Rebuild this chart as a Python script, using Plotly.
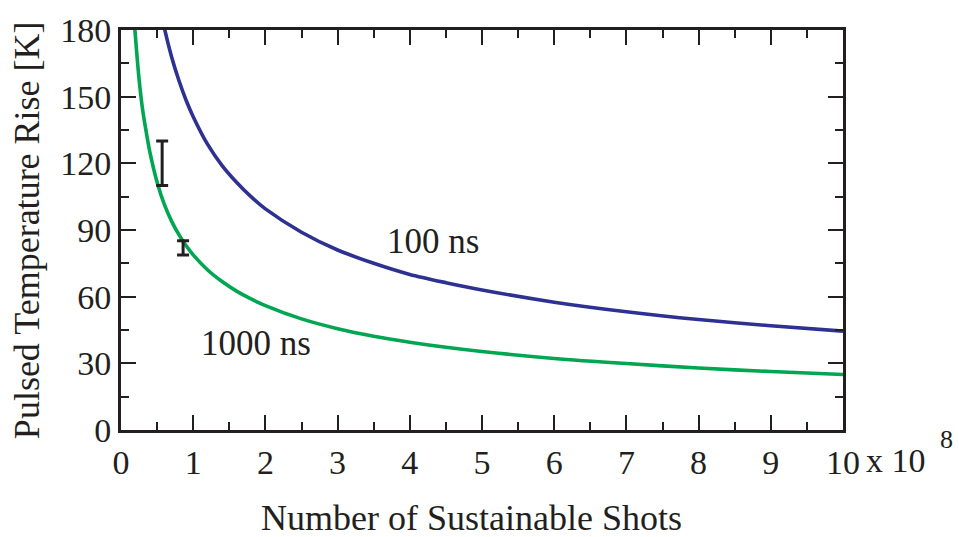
import plotly.graph_objects as go

# Number of sustainable shots (x 10^8) and pulsed temperature rise [K]
shots_100ns = [0.55, 0.6, 0.7, 0.8, 0.9, 1.0, 1.2, 1.4, 1.6, 1.8, 2.0, 2.5, 3.0,
               3.5, 4.0, 4.5, 5.0, 6.0, 7.0, 8.0, 9.0, 10.0]
temp_100ns = [189, 181, 168, 157.5, 148.5, 141, 128.5, 119, 111.5, 105, 99.5, 89, 81,
              75, 70, 66.3, 63, 57.5, 53.2, 49.7, 46.9, 44.5]

shots_1000ns = [0.18, 0.2, 0.25, 0.3, 0.35, 0.4, 0.5, 0.6, 0.7, 0.8, 0.9, 1.0, 1.2,
                1.4, 1.6, 1.8, 2.0, 2.5, 3.0, 3.5, 4.0, 4.5, 5.0, 6.0, 7.0, 8.0,
                9.0, 10.0]
temp_1000ns = [186, 177, 158, 144, 134, 125, 111.5, 101.5, 94, 88, 83, 78.8, 72,
               66.8, 62.5, 59, 56, 50, 45.6, 42.2, 39.5, 37.2, 35.3, 32.2, 29.9, 27.9,
               26.3, 25]

# Measured points with uncertainty
meas_shots = [0.57, 0.86]
meas_temp = [120, 82]
meas_err = [10, 3.2]

x_ticks = list(range(0, 11))
y_ticks = [0, 30, 60, 90, 120, 150, 180]

INK = "#231F20"
BLUE = "#2E3192"
GREEN = "#00A651"
SERIF = "Liberation Serif, Times New Roman, serif"

fig = go.Figure()

fig.add_trace(go.Scatter(
    x=shots_1000ns, y=temp_1000ns, mode="lines", name="1000 ns",
    line=dict(color=GREEN, width=3.6, shape="spline", smoothing=0.8),
))
fig.add_trace(go.Scatter(
    x=shots_100ns, y=temp_100ns, mode="lines", name="100 ns",
    line=dict(color=BLUE, width=3.6, shape="spline", smoothing=0.8),
))
fig.add_trace(go.Scatter(
    x=meas_shots, y=meas_temp, mode="markers",
    marker=dict(size=1, color=INK, opacity=0),
    error_y=dict(type="data", array=meas_err, visible=True,
                 color=INK, thickness=3, width=6),
))

axis_common = dict(
    showline=True, linecolor=INK, linewidth=3, mirror="allticks",
    ticks="inside", ticklen=15, tickwidth=2, tickcolor=INK,
    showgrid=False, zeroline=False,
    tickfont=dict(family=SERIF, size=34, color=INK),
)

fig.update_xaxes(
    range=[0, 10], tickvals=x_ticks, ticktext=[str(v) for v in x_ticks],
    minor=dict(ticks="inside", ticklen=8, tickwidth=2, tickcolor=INK, dtick=0.5),
    ticklabelstandoff=0,
    **axis_common,
)
fig.update_yaxes(
    range=[0, 180], tickvals=y_ticks, ticktext=[str(v) for v in y_ticks],
    minor=dict(ticks="inside", ticklen=8, tickwidth=2, tickcolor=INK, dtick=15),
    ticklabelstandoff=0,
    **axis_common,
)

annotations = [
    dict(x=4.32, y=85, xref="x", yref="y", text="100 ns", showarrow=False,
         font=dict(family=SERIF, size=35, color=INK)),
    dict(x=1.87, y=39, xref="x", yref="y", text="1000 ns", showarrow=False,
         font=dict(family=SERIF, size=35, color=INK)),
    dict(x=1.0, y=-0.076, xref="paper", yref="paper", text="x 10",
         xanchor="left", yanchor="middle", xshift=21, showarrow=False,
         font=dict(family=SERIF, size=34, color=INK)),
    dict(x=1.0, y=0.0, xref="paper", yref="paper", text="8",
         xanchor="center", yanchor="middle", xshift=103, yshift=-9, showarrow=False,
         font=dict(family=SERIF, size=26, color=INK)),
    dict(x=0.486, y=-0.22, xref="paper", yref="paper", text="Number of Sustainable Shots",
         xanchor="center", yanchor="middle", showarrow=False,
         font=dict(family=SERIF, size=36, color=INK)),
    dict(x=-0.130, y=0.5, xref="paper", yref="paper", text="Pulsed Temperature Rise [K]",
         xanchor="center", yanchor="middle", textangle=-90, showarrow=False,
         font=dict(family=SERIF, size=36, color=INK)),
]

fig.update_layout(
    width=959, height=537,
    margin=dict(l=121, r=116, t=27, b=107),
    paper_bgcolor="white", plot_bgcolor="white",
    showlegend=False,
    annotations=annotations,
)

fig.write_html("out.html")
